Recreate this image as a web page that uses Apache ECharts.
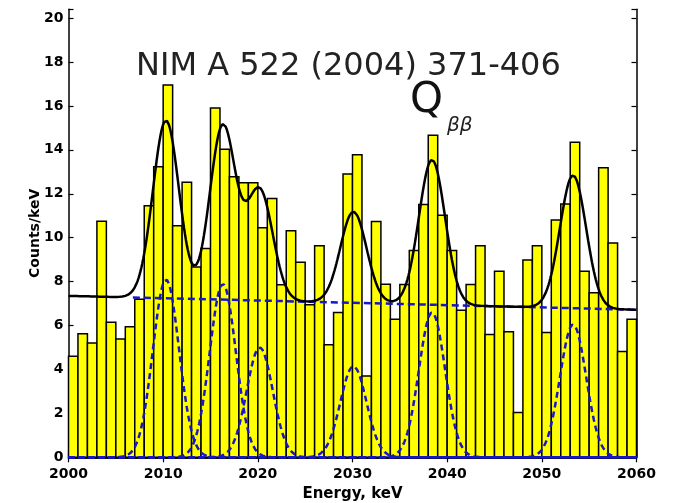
<!DOCTYPE html>
<html>
<head>
<meta charset="utf-8">
<script src="https://cdn.jsdelivr.net/npm/echarts@6/dist/echarts.min.js"></script>
<style>
  html, body { margin: 0; padding: 0; background: #fff; }
  #chart { width: 673px; height: 503px; }
</style>
</head>
<body>
<div id="chart"></div>
<script>
// histogram: 1 keV bins starting at 2000 keV
const binStart = 2000;
const counts = [
  4.6, 5.63, 5.2, 10.75, 6.15, 5.39, 5.94, 7.2, 11.45, 13.23,
  16.95, 10.54, 12.53, 8.67, 9.51, 15.9, 14.03, 12.77, 12.5, 12.5,
  10.45, 11.79, 7.86, 10.32, 8.88, 6.95, 9.63, 5.12, 6.59, 12.9,
  13.78, 3.7, 10.74, 7.88, 6.29, 7.87, 9.42, 11.51, 14.66, 11.02,
  9.42, 6.7, 7.87, 9.63, 5.59, 8.47, 5.72, 2.04, 8.98, 9.63,
  5.68, 10.8, 11.53, 14.35, 8.47, 7.49, 13.18, 9.76, 4.82, 6.29
];

// gaussian lines of the fit (dashed blue)
const peakCenters = [2010.3, 2016.3, 2020.2, 2030.1, 2038.4, 2053.3];
const peakHeights = [8.1, 7.9, 5.0, 4.15, 6.6, 6.05];
const peakSigma = 1.38;

// linear background of the fit
const bgEnergy = [2000, 2060];
const bgLevel = [7.35, 6.72];
const bgLineFrom = 2006.8;

const xTicks = [2000, 2010, 2020, 2030, 2040, 2050, 2060];
const yTicks = [0, 2, 4, 6, 8, 10, 12, 14, 16, 18, 20];

const bins = counts.map((c, i) => [binStart + i, c]);

function background(e) {
  const t = (e - bgEnergy[0]) / (bgEnergy[1] - bgEnergy[0]);
  return bgLevel[0] + t * (bgLevel[1] - bgLevel[0]);
}
function gauss(e, k) {
  const d = (e - peakCenters[k]) / peakSigma;
  return peakHeights[k] * Math.exp(-0.5 * d * d);
}

const grid = [];
for (let e = xTicks[0]; e <= xTicks[xTicks.length - 1] + 1e-9; e += 0.1) grid.push(+e.toFixed(1));

const fitLine = grid.map(e => {
  let y = background(e);
  peakCenters.forEach((_, k) => { y += gauss(e, k); });
  return [e, y];
});
const bgLine = [[bgLineFrom, background(bgLineFrom)], [bgEnergy[1], background(bgEnergy[1])]];

const blue = '#1616cc';
const font = 'DejaVu Sans';

const peakSeries = peakCenters.map((_, k) => ({
  type: 'line',
  data: grid.map(e => [e, gauss(e, k)]),
  showSymbol: false,
  lineStyle: { color: blue, width: 2.5, type: [6, 4] },
  z: 3,
  silent: true
}));

const chart = echarts.init(document.getElementById('chart'));

const axisLine = { show: true, lineStyle: { color: '#000', width: 1.5 } };
const tickIn = { show: true, inside: true, length: 5, lineStyle: { color: '#000', width: 1.2 } };

chart.setOption({
  animation: false,
  backgroundColor: '#fff',
  grid: { left: 68.5, right: 36.5, top: 9.3, bottom: 45.7, containLabel: false, outerBoundsMode: 'none' },
  xAxis: [{
    type: 'value', min: 2000, max: 2060, interval: 10, position: 'bottom',
    axisLine: axisLine, axisTick: tickIn, splitLine: { show: false },
    axisLabel: {
      color: '#000', fontFamily: font, fontWeight: 'bold', fontSize: 14, margin: 10,
      formatter: v => String(v)
    },
    name: 'Energy, keV', nameLocation: 'middle', nameGap: 29, nameMoveOverlap: false,
    nameTextStyle: { color: '#000', fontFamily: font, fontWeight: 'bold', fontSize: 15 }
  }, {
    type: 'value', min: 2000, max: 2060, interval: 10, position: 'top',
    axisLine: axisLine, axisTick: tickIn, axisLabel: { show: false }, splitLine: { show: false }
  }],
  yAxis: [{
    type: 'value', min: 0, max: 20.4, interval: 2, position: 'left',
    axisLine: axisLine, axisTick: tickIn, splitLine: { show: false },
    axisLabel: {
      color: '#000', fontFamily: font, fontWeight: 'bold', fontSize: 14, margin: 5,
      formatter: v => (yTicks.includes(v) ? String(v) : '')
    },
    name: 'Counts/keV', nameLocation: 'middle', nameGap: 26, nameMoveOverlap: false,
    nameTextStyle: { color: '#000', fontFamily: font, fontWeight: 'bold', fontSize: 14 }
  }, {
    type: 'value', min: 0, max: 20.4, interval: 2, position: 'right',
    axisLine: axisLine, axisTick: tickIn, axisLabel: { show: false }, splitLine: { show: false }
  }],
  series: [{
    type: 'custom',
    data: bins,
    z: 2,
    silent: true,
    renderItem: (params, api) => {
      const x0 = api.value(0);
      const top = api.coord([x0, api.value(1)]);
      const base = api.coord([x0 + 1, 0]);
      return {
        type: 'rect',
        shape: { x: top[0], y: top[1], width: base[0] - top[0], height: base[1] - top[1] },
        style: { fill: '#ffff00', stroke: '#000', lineWidth: 1.5 }
      };
    }
  }].concat(peakSeries, [{
    type: 'line',
    data: bgLine,
    showSymbol: false,
    lineStyle: { color: blue, width: 2.5, type: [7, 4] },
    z: 4,
    silent: true
  }, {
    type: 'line',
    data: fitLine,
    showSymbol: false,
    lineStyle: { color: '#000', width: 2.5 },
    z: 5,
    silent: true
  }]),
  graphic: [{
    type: 'text', left: 136, top: 51,
    style: { text: 'NIM A 522 (2004) 371-406', font: '32px "DejaVu Sans"', fill: '#222' }
  }, {
    type: 'text', left: 410, top: 80,
    style: { text: 'Q', font: '42px "DejaVu Sans"', fill: '#111' }
  }, {
    type: 'text', left: 447, top: 116,
    style: { text: 'ββ', font: 'oblique 20px "DejaVu Sans"', fill: '#222' }
  }]
});
</script>
</body>
</html>
